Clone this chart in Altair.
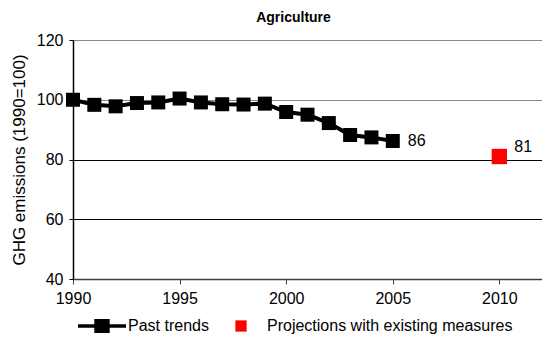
import altair as alt
import pandas as pd

years = list(range(1990, 2006))
past_values = [100.0, 98.3, 97.8, 98.9, 99.1, 100.4, 99.1, 98.5, 98.4, 98.7,
               95.9, 95.0, 92.2, 88.2, 87.4, 86.2]
proj_years = [2010]
proj_values = [81.0]
series_names = ["Past trends", "Projections with existing measures"]
x_ticks = [1990, 1995, 2000, 2005, 2010]
y_ticks = [40, 60, 80, 100, 120]

df = pd.DataFrame(
    {"year": years + proj_years,
     "value": past_values + proj_values,
     "series": [series_names[0]] * len(years) + [series_names[1]] * len(proj_years)}
)

FONT = "Liberation Sans"

LINE_PATH = "M-1,-0.075H1V0.075H-1Z M-0.32,-0.29H0.32V0.29H-0.32Z"
SQ_PATH = "M-0.235,-0.235H0.235V0.235H-0.235Z"

x = alt.X("year:Q", scale=alt.Scale(domain=[1990, 2012], nice=False, zero=False),
          axis=alt.Axis(values=x_ticks, format="d", title=None, grid=False,
                        labelFlush=False,
                        domainColor="#404040", domainWidth=1.5,
                        tickColor="#404040", tickSize=5, tickWidth=1,
                        labelFontSize=16, labelPadding=6, labelColor="black"))
y = alt.Y("value:Q", scale=alt.Scale(domain=[40, 120], nice=False, zero=False),
          axis=alt.Axis(values=y_ticks, title="GHG emissions (1990=100)",
                        grid=True, labelFlush=False,
                        gridColor=alt.condition("datum.value >= 100", alt.value("#888888"), alt.value("black")),
                        gridWidth=1,
                        domainColor="black", domainWidth=1.5,
                        tickColor="black", tickSize=4, tickWidth=1,
                        labelFontSize=16, labelPadding=6, labelColor="black",
                        titleFontSize=17, titleFontWeight="normal", titleColor="black",
                        titlePadding=8))

legend = alt.Legend(
    title=None, orient="none", direction="horizontal",
    legendX=5, legendY=262,
    symbolSize=2304, symbolStrokeWidth=0, symbolOpacity=1,
    labelFontSize=16, labelFont=FONT, labelColor="black", labelLimit=400,
    labelOffset=2, columnPadding=8)

color = alt.Color("series:N",
                  scale=alt.Scale(domain=series_names, range=["black", "#ff0000"]),
                  legend=legend)

base = alt.Chart(df)

line = base.mark_line(color="black", strokeWidth=4).encode(x=x, y=y).transform_filter(
    alt.datum.series == series_names[0])

past_points = base.mark_point(shape="square", filled=True, opacity=1, color="black",
                              size=196).encode(x=x, y=y).transform_filter(
    alt.datum.series == series_names[0])

proj_points = base.mark_point(shape="square", filled=True, opacity=1, color="#ff0000",
                              size=235).encode(x=x, y=y).transform_filter(
    alt.datum.series == series_names[1])

legend_layer = base.mark_point(filled=True, opacity=1).encode(
    x=x, y=y, color=color,
    shape=alt.Shape("series:N",
                    scale=alt.Scale(domain=series_names, range=[LINE_PATH, SQ_PATH]),
                    legend=legend),
).transform_filter("false")

label_past = base.mark_text(align="left", baseline="middle", dx=15, dy=0,
                            fontSize=16, font=FONT, color="black").encode(
    x=x, y=y, text=alt.Text("value:Q", format=".0f")).transform_filter(
    alt.datum.year == 2005)

label_proj = base.mark_text(align="left", baseline="middle", dx=15, dy=-10,
                            fontSize=16, font=FONT, color="black").encode(
    x=x, y=y, text=alt.Text("value:Q", format=".0f")).transform_filter(
    alt.datum.year == 2010)

chart = alt.layer(line, past_points, proj_points, legend_layer, label_past, label_proj).properties(
    width=469, height=239,
    title=alt.TitleParams("Agriculture", fontSize=14, fontWeight="bold", font=FONT,
                          color="black", dx=-14, offset=7),
    autosize=alt.AutoSizeParams(type="none"),
    padding={"left": 73, "top": 40, "right": 0, "bottom": 61},
).configure(font=FONT).configure_view(stroke=None).configure_axis(labelFont=FONT, titleFont=FONT)

chart.save("out.html", embed_options={"renderer": "svg", "actions": False})
